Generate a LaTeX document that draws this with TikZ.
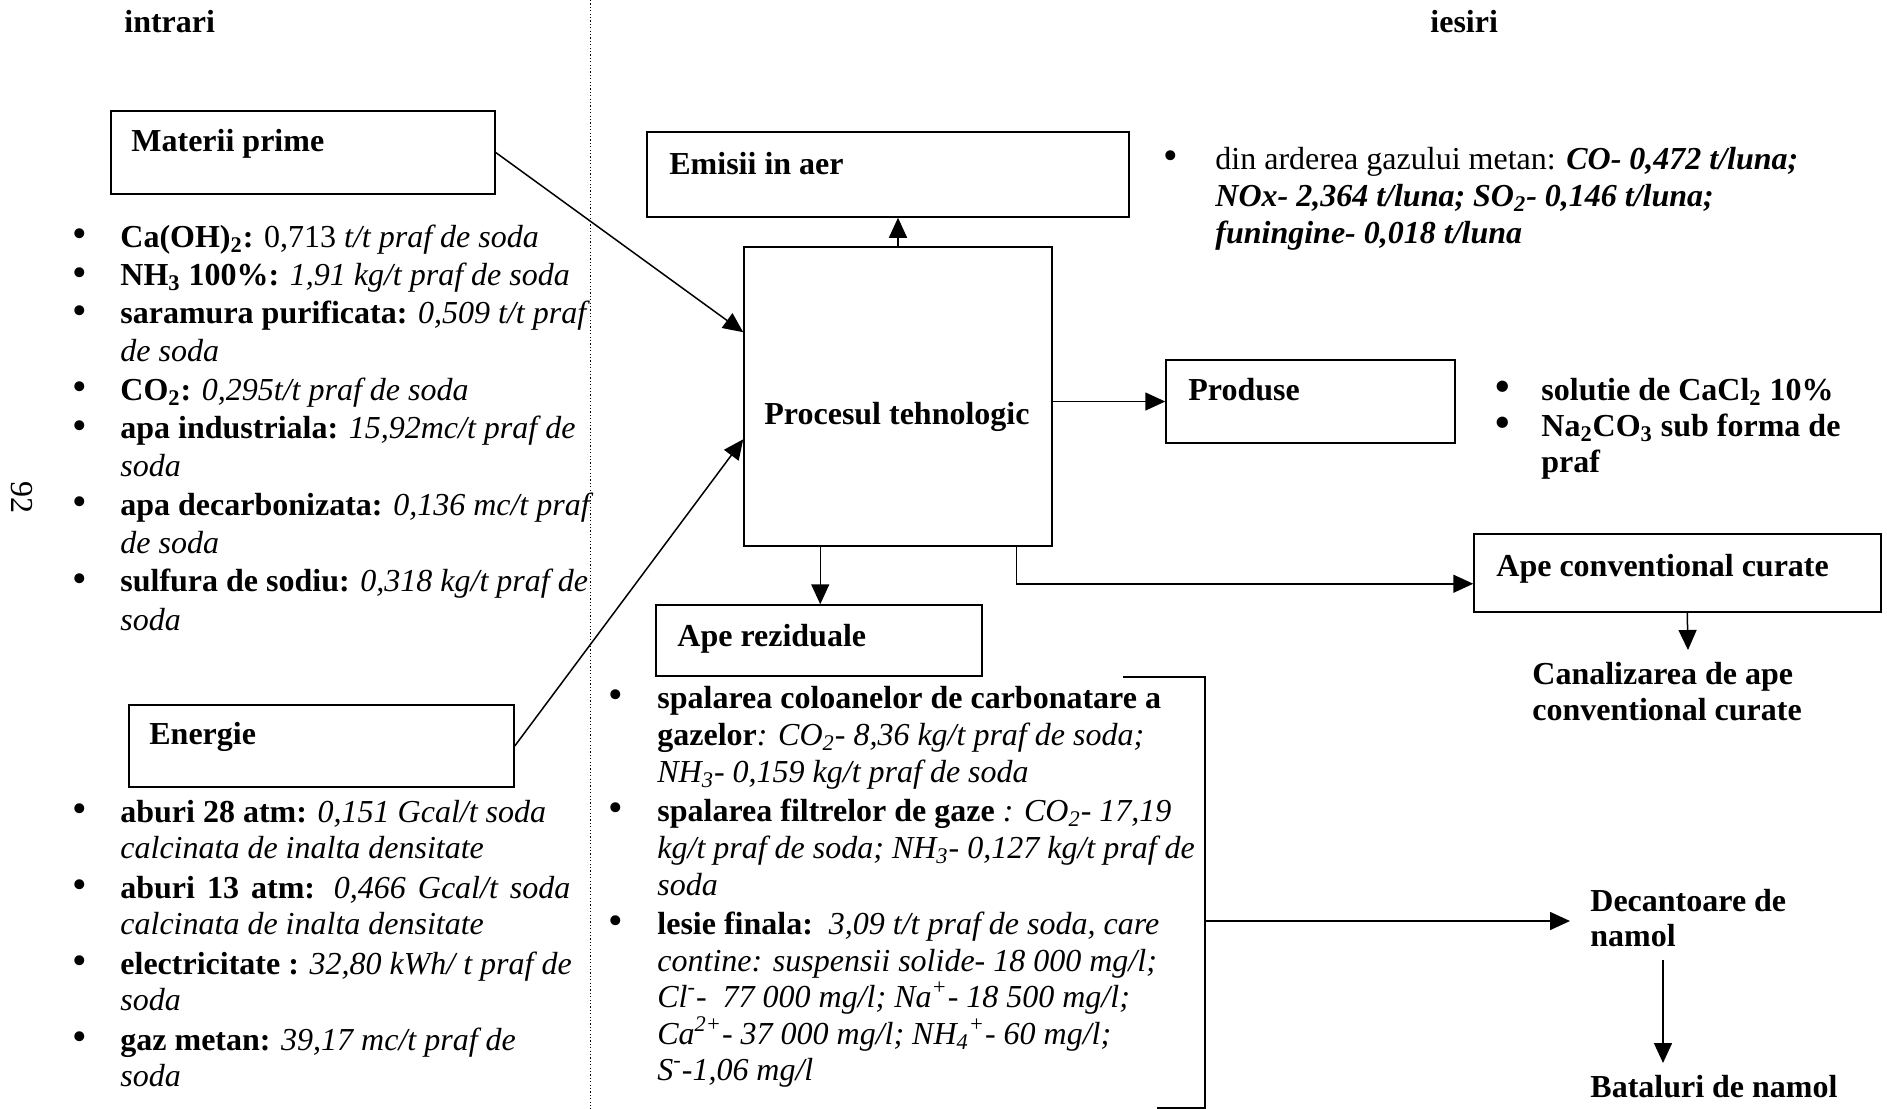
\documentclass[tikz,border=0pt]{standalone}
\usepackage{fontspec}
\setmainfont{Liberation Serif}
\usetikzlibrary{arrows.meta,fit,calc}

\newcommand{\fs}{\fontsize{16}{19}\selectfont}
% bullet hanging to the left of a line, #1 = gap to the text
\newcommand{\bul}[1]{\llap{\raisebox{-0.05ex}{\scalebox{1.3}{\textbullet}}\hspace{#1}}}
\newcommand{\chsub}[1]{\textsubscript{#1}}
\newcommand{\chsup}[1]{\textsuperscript{#1}}

\begin{document}
\begin{tikzpicture}[
  x=0.5pt, y=-0.5pt,
  font=\fs,
  ln/.style={anchor=base west, inner sep=0pt, font=\fs},
  hd/.style={anchor=base west, inner sep=0pt, font=\fs\bfseries},
  box/.style={draw, line width=0.75pt, inner sep=0pt},
  con/.style={line width=0.75pt},
  arr/.style={con, -{Triangle[length=10pt,width=9pt]}}
]
\useasboundingbox (0,0) rectangle (1887,1109);

% ---- column divider and headings ----
\coordinate (dtop) at (590,0);
\coordinate (dbot) at (590,1109);
\draw[line width=0.5pt, dash pattern=on 0.6pt off 1.1pt] (dtop) -- (dbot);
\node[hd] (tin) at (124,32) {intrari};
\node[hd] (tout) at (1430,32) {iesiri};
\node[rotate=-90, inner sep=0pt, font=\fs] (pg) at (22,497) {92};

% ---- boxes ----
\node[box, fit={(111,111) (495,194)}] (mp) {};
\node[box, fit={(129,705) (514,787)}] (en) {};
\node[box, fit={(647,132) (1129,217)}] (em) {};
\node[box, fit={(744,247) (1052,546)}] (proc) {};
\node[box, fit={(1166,360) (1455,443)}] (prod) {};
\node[box, fit={(1474,534) (1881,612)}] (ac) {};
\node[box, fit={(656,605) (982,676)}] (ar) {};

\node[hd] (mpt) at (131,151) {Materii prime};
\node[hd] (ent) at (149,744) {Energie};
\node[hd] (emt) at (669,174) {Emisii in aer};
\node[hd] (proct) at (764,424) {Procesul tehnologic};
\node[hd] (prodt) at (1188,400) {Produse};
\node[hd] (act) at (1496,576) {Ape conventional curate};
\node[hd] (art) at (677,646) {Ape reziduale};

% ---- raw materials ----
\node[ln] (m1) at (120,247) {\bul{16.9pt}\textbf{Ca(OH)\chsub{2}:} 0,713 \textit{t/t praf de soda}};
\node[ln] (m2) at (120,285.3) {\bul{16.9pt}\textbf{NH\chsub{3} 100\%:} \textit{1,91 kg/t praf de soda}};
\node[ln] (m3) at (120,323.6) {\bul{16.9pt}\textbf{saramura purificata:} \textit{0,509 t/t praf}};
\node[ln] (m4) at (120,361.9) {\textit{de soda}};
\node[ln] (m5) at (120,400.2) {\bul{16.9pt}\textbf{CO\chsub{2}:} \textit{0,295t/t praf de soda}};
\node[ln] (m6) at (120,438.5) {\bul{16.9pt}\textbf{apa industriala:} \textit{15,92mc/t praf de}};
\node[ln] (m7) at (120,476.8) {\textit{soda}};
\node[ln] (m8) at (120,515.1) {\bul{16.9pt}\textbf{apa decarbonizata:} \textit{0,136 mc/t praf}};
\node[ln] (m9) at (120,553.4) {\textit{de soda}};
\node[ln] (m10) at (120,591.7) {\bul{16.9pt}\textbf{sulfura de sodiu:} \textit{0,318 kg/t praf de}};
\node[ln] (m11) at (120,630) {\textit{soda}};

% ---- energy ----
\node[ln] (e1) at (120,822) {\bul{16.9pt}\textbf{aburi 28 atm:} \textit{0,151 Gcal/t soda}};
\node[ln] (e2) at (120,858) {\textit{calcinata de inalta densitate}};
\node[ln] (e3) at (120,898) {\bul{16.9pt}\makebox[225pt][s]{\textbf{aburi 13 atm:} \textit{0,466 Gcal/t soda}}};
\node[ln] (e4) at (120,934) {\textit{calcinata de inalta densitate}};
\node[ln] (e5) at (120,974) {\bul{16.9pt}\textbf{electricitate :} \textit{32,80 kWh/ t praf de}};
\node[ln] (e6) at (120,1010) {\textit{soda}};
\node[ln] (e7) at (120,1050) {\bul{16.9pt}\textbf{gaz metan:} \textit{39,17 mc/t praf de}};
\node[ln] (e8) at (120,1086) {\textit{soda}};

% ---- air emissions ----
\node[ln] (a1) at (1215,169) {\bul{18.9pt}din arderea gazului metan: \textbf{\textit{CO- 0,472 t/luna;}}};
\node[ln] (a2) at (1215,206) {\textbf{\textit{NOx- 2,364 t/luna; SO\chsub{2}- 0,146 t/luna;}}};
\node[ln] (a3) at (1215,243) {\textbf{\textit{funingine- 0,018 t/luna}}};

% ---- products ----
\node[hd] (p1) at (1541,400) {\bul{15.9pt}solutie de CaCl\chsub{2} 10\%};
\node[hd] (p2) at (1541,436) {\bul{15.9pt}Na\chsub{2}CO\chsub{3} sub forma de};
\node[hd] (p3) at (1541,472) {praf};

% ---- waste water ----
\node[ln] (w1) at (657,708) {\bul{17.4pt}\textbf{spalarea coloanelor de carbonatare a}};
\node[ln] (w2) at (657,745) {\textbf{gazelor}\textit{: CO\chsub{2}- 8,36 kg/t praf de soda;}};
\node[ln] (w3) at (657,782) {\textit{NH\chsub{3}- 0,159 kg/t praf de soda}};
\node[ln] (w4) at (657,821) {\bul{17.4pt}\textbf{spalarea filtrelor de gaze} \textit{: CO\chsub{2}- 17,19}};
\node[ln] (w5) at (657,858) {\textit{kg/t praf de soda; NH\chsub{3}- 0,127 kg/t praf de}};
\node[ln] (w6) at (657,895) {\textit{soda}};
\node[ln] (w7) at (657,934) {\bul{17.4pt}\textbf{lesie finala:}\ \ \textit{3,09 t/t praf de soda, care}};
\node[ln] (w8) at (657,971) {\textit{contine: suspensii solide- 18 000 mg/l;}};
\node[ln] (w9) at (657,1007) {\textit{Cl\chsup{-}-\ \ 77 000 mg/l; Na\chsup{+}- 18 500 mg/l;}};
\node[ln] (w10) at (657,1044) {\textit{Ca\chsup{2+}- 37 000 mg/l; NH\chsub{4}\chsup{+}- 60 mg/l;}};
\node[ln] (w11) at (657,1080) {\textit{S\chsup{-}-1,06 mg/l}};

% ---- destinations ----
\node[hd] (can1) at (1532,684) {Canalizarea de ape};
\node[hd] (can2) at (1532,720) {conventional curate};
\node[hd] (dec1) at (1590,911) {Decantoare de};
\node[hd] (dec2) at (1590,946) {namol};
\node[hd] (bat) at (1590,1097) {Bataluri de namol};

% ---- connectors ----
\draw[arr] (mp.east) -- ($(proc.north west)+(0,86)$);
\draw[arr] (en.east) -- ($(proc.north west)+(0,193)$);
\draw[arr] (proc.north) -- (proc.north |- em.south);
\draw[arr] (proc.east |- prod.west) -- (prod.west);
\draw[arr] ($(proc.south west)+(77,0)$) -- ($(ar.north west)+(165,0)$);
\draw[arr] ($(proc.south west)+(273,0)$) |- ($(ac.south west)+(0,-29)$);

\coordinate (canal) at (1688,650);
\draw[arr] ($(ac.south west)+(214,0)$) -- (canal);

% bracket gathering the waste-water streams
\coordinate (b1) at (1123,677);
\coordinate (b2) at (1205,677);
\coordinate (b3) at (1205,1108);
\coordinate (b4) at (1157,1108);
\draw[con] (b1) -- (b2) -- (b3) -- (b4);
\coordinate (bmid) at (1205,921);
\coordinate (decin) at (1570,921);
\draw[arr] (bmid) -- (decin);

\coordinate (d1) at (1663,960);
\coordinate (d2) at (1663,1063);
\draw[arr] (d1) -- (d2);
\end{tikzpicture}
\end{document}
